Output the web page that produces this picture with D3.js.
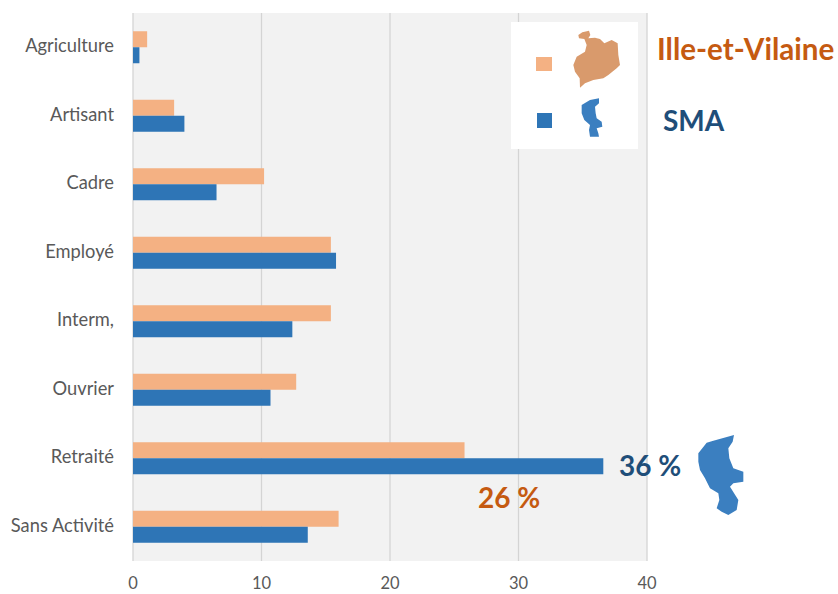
<!DOCTYPE html>
<html><head><meta charset="utf-8">
<script src="https://cdn.jsdelivr.net/npm/d3@7/dist/d3.min.js"></script>
<style>html,body{margin:0;background:#fff}svg{display:block}text{font-family:Lato,"Open Sans",sans-serif}</style>
</head><body><svg id="c" width="838" height="594"></svg>
<script>
const categories=["Agriculture","Artisant","Cadre","Employé","Interm,","Ouvrier","Retraité","Sans Activité"];
const illeValues=[1.1,3.2,10.2,15.4,15.4,12.7,25.8,16.0];
const smaValues=[0.5,4.0,6.5,15.8,12.4,10.7,36.6,13.6];
const xTicks=[0,10,20,30,40];
const illeOutline=[[40,30],[52,22],[72,17],[76,30],[70,40],[90,38],[105,42],[118,55],[140,45],[158,55],[160,90],[165,120],[155,130],[130,150],[115,160],[85,165],[60,175],[45,188],[44,160],[30,140],[25,120],[35,95],[60,80],[65,60],[58,42],[42,40]];
const smaLegendOutline=[[20,30],[45,15],[72,10],[72,25],[60,35],[62,55],[65,70],[80,80],[82,95],[65,100],[70,115],[72,125],[45,125],[42,105],[45,90],[28,75],[20,55]];
const smaBigOutline=[[25,70],[50,38],[70,32],[132,15],[128,35],[115,55],[118,85],[130,115],[160,125],[160,155],[130,160],[120,170],[145,210],[140,240],[115,255],[95,245],[80,235],[88,210],[85,190],[60,175],[45,145],[30,120],[25,95]];

const svg=d3.select("#c");
const x=d3.scaleLinear().domain([0,40]).range([133,647]);
const y=d3.scaleBand().domain(categories).range([13,561]);
const barH=16;
svg.append("rect").attr("x",x(0)).attr("y",13).attr("width",x(40)-x(0)).attr("height",548).attr("fill","#f2f2f2");
svg.selectAll(".g").data(xTicks).join("line").attr("x1",d=>x(d)).attr("x2",d=>x(d)).attr("y1",13).attr("y2",561)
  .attr("stroke","#d4d4d4").attr("stroke-width",1.3);
svg.selectAll(".i").data(categories).join("rect").attr("x",x(0)).attr("y",d=>y(d)+y.bandwidth()/2-barH)
  .attr("width",(d,i)=>x(illeValues[i])-x(0)).attr("height",barH).attr("fill","#f4b183");
svg.selectAll(".s").data(categories).join("rect").attr("x",x(0)).attr("y",d=>y(d)+y.bandwidth()/2)
  .attr("width",(d,i)=>x(smaValues[i])-x(0)).attr("height",barH).attr("fill","#2e75b6");
svg.selectAll(".cl").data(categories).join("text").attr("x",114).attr("y",d=>y(d)+y.bandwidth()/2+5)
  .attr("text-anchor","end").attr("font-size",18.3).attr("fill","#595959").text(d=>d);
svg.selectAll(".tl").data(xTicks).join("text").attr("x",d=>x(d)).attr("y",589)
  .attr("text-anchor","middle").attr("font-size",16.5).attr("fill","#595959").text(d=>d);
// legend
svg.append("rect").attr("x",511).attr("y",22).attr("width",127).attr("height",127).attr("fill","#fff");
svg.append("rect").attr("x",536).attr("y",57).attr("width",16).attr("height",14).attr("fill","#f4b183");
svg.append("rect").attr("x",537).attr("y",113).attr("width",15).attr("height",15).attr("fill","#2e75b6");
const line=d3.line().curve(d3.curveLinearClosed);
const place=(pts,ox,oy)=>line(pts.map(p=>[ox+p[0]/3,oy+p[1]/3]));
svg.append("path").attr("d",place(illeOutline,565,25)).attr("fill","#d99a6c");
svg.append("path").attr("d",place(smaLegendOutline,575,95)).attr("fill","#3b7fc0");
svg.append("path").attr("d",place(smaBigOutline,690,430)).attr("fill","#3b7fc0");
const lab=(t,xp,yp,fs,c)=>svg.append("text").attr("x",xp).attr("y",yp).attr("font-size",fs).attr("font-weight",700).attr("fill",c).text(t);
lab("Ille-et-Vilaine",657,60,29.6,"#c55a11");
lab("SMA",663,131,28,"#1f4e79");
lab("36 %",619,476,28,"#1f4e79");
lab("26 %",478,508,28,"#c55a11");
</script></body></html>
